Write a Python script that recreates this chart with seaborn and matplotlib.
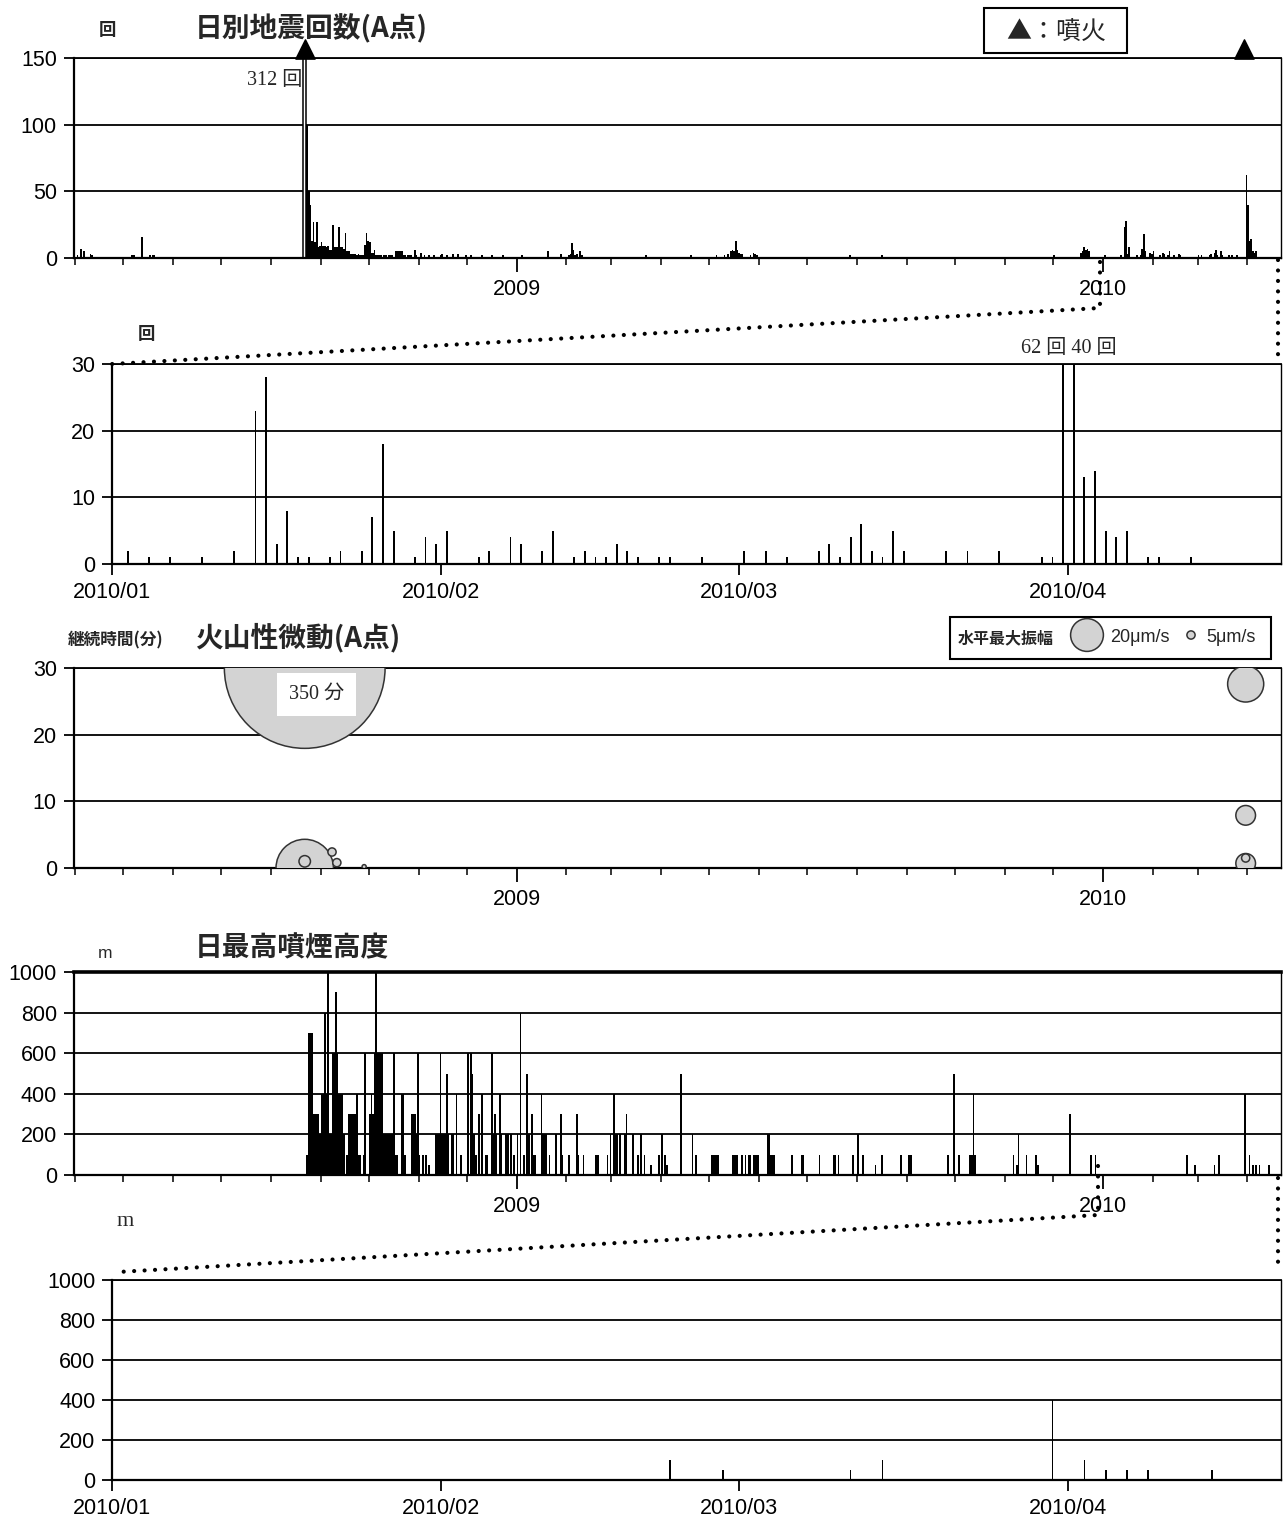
import matplotlib
matplotlib.use("Agg")
import matplotlib.pyplot as plt
import matplotlib.dates as mdates
from matplotlib.lines import Line2D
from matplotlib.patches import Rectangle, Circle
import pandas as pd
import seaborn as sns

# ---------------- data ----------------
# daily earthquake count (A point)
eq_early_dates = ["2008-04-02", "2008-04-04", "2008-04-06", "2008-04-10", "2008-04-11", "2008-04-22",
                  "2008-05-01", "2008-05-06", "2008-05-07", "2008-05-12", "2008-05-17", "2008-05-19",
                  "2008-05-20", "2008-05-29", "2008-06-01", "2008-06-10", "2008-06-13", "2008-06-27",
                  "2008-07-01", "2008-07-20", "2008-07-29", "2008-08-01", "2008-08-19"]
eq_early_counts = [2, 7, 5, 3, 2, 1, 1, 2, 2, 16, 2, 2, 2, 1, 1, 1, 1, 1, 1, 1, 1, 1, 1]

eq_swarm_start = "2008-08-22"
eq_swarm_counts = [312, 100, 50, 40, 13, 27, 12, 27, 8, 9,
                   12, 9, 9, 8, 9, 6, 6, 25, 8, 8,
                   8, 23, 8, 8, 7, 19, 5, 5, 3, 3,
                   3, 3, 2, 3, 2, 2, 2, 10, 19, 13,
                   12, 4, 4, 6, 2, 2, 2, 2, 1, 2,
                   2, 1, 2, 2, 2, 1, 5, 5, 5, 5,
                   5, 2, 2, 1, 2, 2, 2, 1, 6, 2, 1, 1]

eq_quiet_start = "2008-11-02"
eq_quiet_counts = [4, 1, 2, 1, 0, 2, 1, 1, 2, 0,
                   1, 1, 2, 3, 0, 1, 2, 1, 1, 0,
                   3, 1, 1, 3, 0, 1, 1, 1, 2, 0,
                   1, 2, 1, 1, 0, 1, 1, 0, 2, 1,
                   1, 1, 0, 1, 2, 1, 0, 1, 1, 1,
                   1, 2, 1, 1, 0, 1, 1, 1, 1, 0,
                   1, 1, 1, 2, 1, 1, 0, 1, 1, 1,
                   1, 1, 1, 1, 0, 1, 1, 1, 0, 5,
                   1, 0, 0, 1, 1, 0, 1, 3, 0, 1,
                   0, 1, 2, 3, 11, 6, 2, 3, 0, 5,
                   2, 1, 0, 1]

eq_2009_dates = ["2009-02-20", "2009-03-05", "2009-03-10", "2009-03-21", "2009-03-22", "2009-03-26",
                 "2009-03-30", "2009-04-02", "2009-04-05", "2009-04-19", "2009-04-20", "2009-05-03",
                 "2009-05-05", "2009-05-08", "2009-05-10", "2009-05-12", "2009-05-14", "2009-05-15",
                 "2009-05-16", "2009-05-17", "2009-05-18", "2009-05-19", "2009-05-20", "2009-05-21",
                 "2009-05-24", "2009-05-26", "2009-05-28", "2009-05-29", "2009-05-30", "2009-06-01",
                 "2009-06-05", "2009-06-08", "2009-06-20", "2009-06-30", "2009-07-05", "2009-07-10",
                 "2009-07-14", "2009-07-19", "2009-07-24", "2009-07-27", "2009-07-29", "2009-08-10",
                 "2009-08-16", "2009-08-18", "2009-08-20", "2009-09-28", "2009-10-29", "2009-11-05",
                 "2009-12-01", "2009-12-03", "2009-12-10", "2009-12-18", "2009-12-19", "2009-12-20",
                 "2009-12-21", "2009-12-22", "2009-12-23", "2009-12-27"]
eq_2009_counts = [1, 1, 1, 1, 2, 1, 1, 1, 1, 2, 1, 1,
                  2, 1, 2, 3, 5, 6, 5, 13, 6, 4, 3, 3,
                  1, 2, 4, 3, 2, 1, 1, 1, 1, 1, 1, 1,
                  1, 1, 1, 2, 1, 1, 2, 1, 1, 1, 1, 1,
                  2, 1, 1, 4, 5, 8, 6, 7, 5, 1]

eq_2010_dates = ["2010-01-02", "2010-01-04", "2010-01-06", "2010-01-09", "2010-01-12", "2010-01-14",
                 "2010-01-15", "2010-01-16", "2010-01-17", "2010-01-18", "2010-01-19", "2010-01-21",
                 "2010-01-22", "2010-01-24", "2010-01-25", "2010-01-26", "2010-01-27", "2010-01-29",
                 "2010-01-30", "2010-01-31", "2010-02-01", "2010-02-04", "2010-02-05", "2010-02-07",
                 "2010-02-08", "2010-02-10", "2010-02-11", "2010-02-13", "2010-02-14", "2010-02-15",
                 "2010-02-16", "2010-02-17", "2010-02-18", "2010-02-19", "2010-02-21", "2010-02-22",
                 "2010-02-25", "2010-03-01", "2010-03-03", "2010-03-05", "2010-03-08", "2010-03-09",
                 "2010-03-10", "2010-03-11", "2010-03-12", "2010-03-13", "2010-03-14", "2010-03-15",
                 "2010-03-16", "2010-03-20", "2010-03-22", "2010-03-25", "2010-03-29", "2010-03-30",
                 "2010-03-31", "2010-04-01", "2010-04-02", "2010-04-03", "2010-04-04", "2010-04-05",
                 "2010-04-06", "2010-04-08", "2010-04-09", "2010-04-12"]
eq_2010_counts = [2, 1, 1, 1, 2, 23, 28, 3, 8, 1, 1, 1,
                  2, 2, 7, 18, 5, 1, 4, 3, 5, 1, 2, 4,
                  3, 2, 5, 1, 2, 1, 1, 3, 2, 1, 1, 1,
                  1, 2, 2, 1, 2, 3, 1, 4, 6, 2, 1, 5,
                  2, 2, 2, 2, 1, 1, 62, 40, 13, 14, 5, 4,
                  5, 1, 1, 1]

eruption_dates = ["2008-08-22", "2010-03-30"]

# volcanic tremor: duration (min) and max horizontal amplitude (um/s)
tremor_dates = ["2008-08-22", "2008-08-22", "2008-08-22", "2008-09-08", "2008-09-11",
                "2008-09-28", "2010-03-31", "2010-03-31", "2010-03-31", "2010-03-31"]
tremor_minutes = [350, 0, 1, 2.4, 0.8, 0.2, 27.6, 7.9, 0.7, 1.5]
tremor_amp = [98, 35, 7, 5, 5, 2.5, 22, 12, 12, 5]

# daily maximum plume height (m)
smoke_swarm_start = "2008-08-22"
smoke_swarm_heights = [0, 100, 700, 700, 700, 300, 300, 300, 300, 200,
                       400, 400, 800, 400, 1000, 200, 200, 600, 600, 900,
                       600, 400, 400, 400, 200, 0, 100, 300, 300, 300,
                       300, 300, 400, 100, 100, 0, 100, 600, 0, 0,
                       300, 400, 300, 600, 1000, 600, 600, 600, 600, 200,
                       200, 200, 200, 200, 200, 600, 100, 100, 0, 0,
                       400, 400, 100, 0, 0, 0, 300, 300, 300, 200,
                       600, 100, 0, 100, 0, 100, 0, 50, 0, 0,
                       0, 200, 200, 200, 600, 200, 200, 200, 500, 200,
                       0, 200, 200, 0, 400, 0, 0, 100, 0, 0,
                       0, 600, 0, 600, 500, 200, 100, 0, 300, 0,
                       400, 0, 100, 100, 0, 0, 600, 200, 300, 200,
                       0, 400, 200, 0, 0, 200, 200, 0, 200, 0,
                       100, 0, 200, 0, 800, 0, 100, 0, 500, 200,
                       0, 300, 100, 100, 0, 0, 0, 400, 200, 200,
                       200, 0, 100, 0, 0, 0, 200, 0, 0, 300,
                       100, 0, 0, 0, 100, 0, 0, 0, 0, 300,
                       100, 0, 0, 100, 0, 0, 0, 0, 0, 0,
                       0, 100, 100, 0, 0, 0, 0, 0, 100, 0,
                       200, 0, 400, 200, 200, 0, 200, 0, 0, 200,
                       300, 0, 0, 0, 200, 0, 0, 100, 0, 200]

smoke_2009_dates = ["2009-03-21", "2009-03-25", "2009-03-30", "2009-04-01", "2009-04-03", "2009-04-04",
                    "2009-04-13", "2009-04-20", "2009-04-22", "2009-05-02", "2009-05-03", "2009-05-04",
                    "2009-05-05", "2009-05-06", "2009-05-15", "2009-05-16", "2009-05-17", "2009-05-18",
                    "2009-05-21", "2009-05-23", "2009-05-25", "2009-05-26", "2009-05-28", "2009-05-29",
                    "2009-05-30", "2009-05-31", "2009-06-06", "2009-06-07", "2009-06-08", "2009-06-09",
                    "2009-06-10", "2009-06-21", "2009-06-27", "2009-06-28", "2009-07-08", "2009-07-17",
                    "2009-07-18", "2009-07-20", "2009-07-29", "2009-08-01", "2009-08-04", "2009-08-12",
                    "2009-08-16", "2009-08-28", "2009-09-02", "2009-09-03", "2009-09-26", "2009-09-30",
                    "2009-10-03", "2009-10-10", "2009-10-11", "2009-10-12", "2009-10-13", "2009-11-06",
                    "2009-11-08", "2009-11-09", "2009-11-14", "2009-11-20", "2009-11-21", "2009-12-11",
                    "2009-12-24", "2009-12-27"]
smoke_2009_heights = [100, 50, 100, 200, 100, 50, 500, 200, 100, 100, 100, 100,
                      100, 100, 100, 100, 100, 100, 100, 100, 100, 100, 100, 100,
                      100, 100, 200, 200, 100, 100, 100, 100, 100, 100, 100, 100,
                      100, 100, 100, 200, 100, 50, 100, 100, 100, 100, 100, 500,
                      100, 100, 100, 400, 100, 100, 50, 200, 100, 100, 50, 300,
                      100, 100]

smoke_2010_dates = ["2010-02-22", "2010-02-27", "2010-03-11", "2010-03-14", "2010-03-30",
                    "2010-04-02", "2010-04-04", "2010-04-06", "2010-04-08", "2010-04-14"]
smoke_2010_heights = [100, 50, 50, 100, 400, 100, 50, 50, 50, 50]


# ---------------- tables ----------------
def run_frame(start, values, name):
    d = pd.date_range(start, periods=len(values), freq="D")
    return pd.DataFrame({"date": d, name: values})


def list_frame(dates, values, name):
    return pd.DataFrame({"date": pd.to_datetime(dates), name: values})


eq = pd.concat([list_frame(eq_early_dates, eq_early_counts, "n"),
                run_frame(eq_swarm_start, eq_swarm_counts, "n"),
                run_frame(eq_quiet_start, eq_quiet_counts, "n"),
                list_frame(eq_2009_dates, eq_2009_counts, "n"),
                list_frame(eq_2010_dates, eq_2010_counts, "n")], ignore_index=True)
eq = eq[eq["n"] > 0]
eq10 = list_frame(eq_2010_dates, eq_2010_counts, "n")

smoke = pd.concat([run_frame(smoke_swarm_start, smoke_swarm_heights, "h"),
                   list_frame(smoke_2009_dates, smoke_2009_heights, "h"),
                   list_frame(smoke_2010_dates, smoke_2010_heights, "h")], ignore_index=True)
smoke = smoke[smoke["h"] > 0]
smoke10 = list_frame(smoke_2010_dates, smoke_2010_heights, "h")

tremor = pd.DataFrame({"date": pd.to_datetime(tremor_dates), "minutes": tremor_minutes,
                       "amp": tremor_amp})
tremor["y"] = tremor["minutes"].clip(upper=30)
# bubble radius proportional to amplitude (about 0.82 px per um/s)
tremor["s"] = (2 * tremor["amp"] * 0.82 * 0.72) ** 2
tremor = tremor.sort_values("amp", ascending=False)

eruptions = pd.DataFrame({"date": pd.to_datetime(eruption_dates), "y": 156.5})

# ---------------- figure ----------------
sns.set_theme(style="ticks")
plt.rcParams["font.family"] = ["Liberation Sans", "Noto Sans CJK JP", "DejaVu Sans"]
CJK = ["Noto Sans CJK JP", "DejaVu Sans"]
SERIF = ["Liberation Serif", "Noto Sans CJK JP"]

W, H = 1284, 1520
fig = plt.figure(figsize=(W / 100, H / 100), dpi=100)


def add_ax(x0, y0, x1, y1):
    return fig.add_axes([x0 / W, 1 - y1 / H, (x1 - x0) / W, (y1 - y0) / H])


def style(ax, yticks, long_axis, top_lw=1.3):
    ax.set_ylim(yticks[0], yticks[-1])
    ax.set_yticks(yticks)
    ax.grid(False)
    ax.yaxis.grid(True, color="black", linewidth=1.3)
    ax.set_axisbelow(True)
    for side in ["left", "bottom"]:
        ax.spines[side].set_linewidth(1.6)
        ax.spines[side].set_color("black")
    ax.spines["right"].set_linewidth(1.0)
    ax.spines["right"].set_color("black")
    ax.spines["top"].set_linewidth(top_lw)
    ax.spines["top"].set_color("black")
    ax.tick_params(axis="y", direction="out", length=7, width=1.3, pad=5,
                   labelsize=15.5, colors="black")
    if long_axis:
        ax.set_xlim(pd.Timestamp("2008-03-31"), pd.Timestamp("2010-04-22"))
        ax.xaxis.set_major_locator(mdates.YearLocator())
        ax.xaxis.set_major_formatter(mdates.DateFormatter("%Y"))
        ax.xaxis.set_minor_locator(mdates.MonthLocator())
        ax.tick_params(axis="x", which="major", direction="out", length=10, width=1.3,
                       pad=5, labelsize=15.5, colors="black")
        ax.tick_params(axis="x", which="minor", direction="out", length=5, width=1.1,
                       colors="black")
    else:
        ax.set_xlim(pd.Timestamp("2010-01-01"), pd.Timestamp("2010-04-21"))
        ax.xaxis.set_major_locator(mdates.MonthLocator())
        ax.xaxis.set_major_formatter(mdates.DateFormatter("%Y/%m"))
        ax.tick_params(axis="x", direction="out", length=8, width=1.3, pad=5,
                       labelsize=15.5, colors="black")


ax1 = add_ax(73.5, 58, 1281, 258)
ax2 = add_ax(112, 364, 1281, 564)
ax3 = add_ax(73.5, 668, 1281, 868)
ax4 = add_ax(73.5, 972, 1281, 1175)
ax5 = add_ax(112, 1280, 1281, 1480)

# panel 1: daily earthquakes; off-scale days drawn hollow, just left of the next day
inside = eq[eq["n"] <= 150]
over = eq[eq["n"] > 150]
ax1.bar(inside["date"], inside["n"], width=1.0, align="edge", color="black", linewidth=0)
ax1.bar(over["date"] + pd.Timedelta(days=1), over["n"], width=-2.0, align="edge",
        facecolor="white", edgecolor="black", linewidth=1.1)
sns.scatterplot(data=eruptions, x="date", y="y", ax=ax1, marker="^", s=190, color="black",
                edgecolor="black", clip_on=False, zorder=5, legend=False)
style(ax1, [0, 50, 100, 150], True)
for _, r in over.iterrows():
    ax1.text(r["date"] - pd.Timedelta(days=1.5), 133, f"{r['n']} 回", ha="right", va="center",
             fontsize=14.5, family=SERIF)

# panel 2: 2010 earthquakes
ax2.bar(eq10["date"] + pd.Timedelta(hours=12), eq10["n"], width=0.18, color="black", linewidth=0)
style(ax2, [0, 10, 20, 30], False)
big10 = eq10[eq10["n"] > 30]
ax2.text(pd.Timestamp("2010-04-01"), 32.3, " ".join(f"{v} 回" for v in big10["n"]),
         ha="center", va="center", fontsize=14.5, family=SERIF, clip_on=False)

# panel 3: volcanic tremor bubbles
sns.scatterplot(data=tremor, x="date", y="y", s=tremor["s"].tolist(), ax=ax3,
                color="#d3d3d3", edgecolor="#333333", linewidth=1.1, legend=False, zorder=3)
style(ax3, [0, 10, 20, 30], True)
big_t = tremor[tremor["minutes"] > 30]
for _, r in big_t.iterrows():
    ax3.text(r["date"] + pd.Timedelta(days=7.5), 26.0, f"{int(r['minutes'])} 分",
             ha="center", va="center", fontsize=14.5, family=SERIF, zorder=6,
             bbox=dict(facecolor="white", edgecolor="none", boxstyle="square,pad=0.6"))

# panel 4: plume height
ax4.bar(smoke["date"], smoke["h"], width=1.0, align="edge", color="black", linewidth=0)
style(ax4, [0, 200, 400, 600, 800, 1000], True, top_lw=2.6)

# panel 5: 2010 plume height
ax5.bar(smoke10["date"] + pd.Timedelta(hours=12), smoke10["h"], width=0.16, color="black",
        linewidth=0)
style(ax5, [0, 200, 400, 600, 800, 1000], False)

for ax in [ax1, ax2, ax3, ax4, ax5]:
    ax.set_xlabel("")
    ax.set_ylabel("")


# ---------------- annotations ----------------
def ftext(x, y, s, **kw):
    fig.text(x / W, 1 - y / H, s, **kw)


ftext(107, 30, "回", fontsize=12.5, weight="bold", family=CJK, ha="center", va="center")
ftext(195, 29, "日別地震回数(A点)", fontsize=20, weight="bold", family=CJK, ha="left", va="center")
fig.add_artist(Rectangle((984 / W, 1 - 53 / H), 143 / W, 45 / H, transform=fig.transFigure,
                         facecolor="white", edgecolor="black", linewidth=1.5))
ftext(1056, 32, "▲：噴火", fontsize=18, family=CJK, ha="center", va="center")

ftext(146, 334, "回", fontsize=12.5, weight="bold", family=CJK, ha="center", va="center")

ftext(68, 640, "継続時間(分)", fontsize=12, weight="bold", family=CJK, ha="left", va="center")
ftext(195, 638, "火山性微動(A点)", fontsize=20, weight="bold", family=CJK, ha="left", va="center")
fig.add_artist(Rectangle((950 / W, 1 - 659 / H), 321 / W, 42 / H, transform=fig.transFigure,
                         facecolor="white", edgecolor="black", linewidth=1.5))
ftext(958, 638, "水平最大振幅", fontsize=11.5, weight="bold", family=CJK, ha="left", va="center")
for cx, amp in [(1087, 20), (1191, 5)]:
    fig.add_artist(Circle((cx / 100, (H - 635) / 100), amp * 0.82 / 100,
                          transform=fig.dpi_scale_trans, facecolor="#d3d3d3",
                          edgecolor="#333333", linewidth=1.1))
ftext(1110, 638, "20μm/s", fontsize=13, ha="left", va="center")
ftext(1206, 638, "5μm/s", fontsize=13, ha="left", va="center")

ftext(105, 953, "m", fontsize=12.5, ha="center", va="center")
ftext(195, 948, "日最高噴煙高度", fontsize=20, weight="bold", family=CJK, ha="left", va="center")
ftext(125, 1222, "m", fontsize=16, family=SERIF, ha="center", va="center")


# dotted zoom connectors
def dots(xs, ys):
    fig.add_artist(Line2D([x / W for x in xs], [1 - y / H for y in ys], transform=fig.transFigure,
                          color="black", linewidth=3.0, linestyle=(0, (0.01, 2.5)),
                          dash_capstyle="round", solid_capstyle="round"))


dots([1100, 1100, 112], [262, 308, 364])
dots([1278, 1278], [260, 358])
dots([1098, 1098, 118], [1166, 1215, 1272])
dots([1278, 1278], [1178, 1264])

fig.savefig("out.png", dpi=100, facecolor="white")
